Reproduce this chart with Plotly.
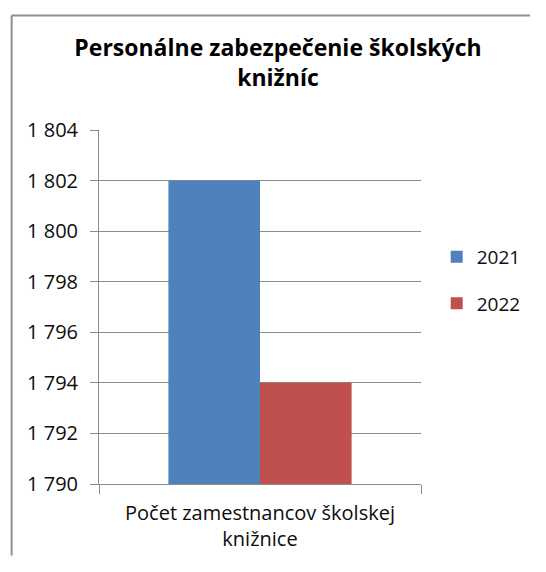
import plotly.graph_objects as go

categories = ["Počet zamestnancov školskej<br>knižnice"]
series_names = ["2021", "2022"]
values_2021 = [1802]
values_2022 = [1794]
y_ticks = [1790, 1792, 1794, 1796, 1798, 1800, 1802, 1804]
colors = ["#4F81BD", "#C0504D"]

FONT = "'Open Sans', Lato, sans-serif"
# page body has an 8px margin: keep the figure inside the window so nothing overflows
OFF = 8
W, H = 546 - 2 * OFF, 572 - 2 * OFF
L = 99 - OFF
R = W - (427 - OFF)
T = 129.5 - OFF
B = H - (491 - OFF)
pw, ph = W - L - R, H - T - B

fig = go.Figure()
for name, vals, col in zip(series_names, [values_2021, values_2022], colors):
    fig.add_trace(go.Bar(x=categories, y=vals, name=name, marker_color=col,
                         marker_line_width=0, legendgroup=name))

grid = "#8C8C8C"
fig.update_layout(
    width=W, height=H,
    margin=dict(l=L, r=R, t=T, b=B, pad=0),
    paper_bgcolor="white", plot_bgcolor="white",
    separators=", ",
    font=dict(family=FONT, size=19, color="#0d0d0d"),
    barmode="group", bargap=0.431, bargroupgap=0,
    title=dict(text="<b>Personálne zabezpečenie školských<br>knižníc</b>",
               xref="container", x=(278 - OFF) / W, xanchor="center",
               yref="container", y=1 - (56 - OFF) / H, yanchor="middle",
               font=dict(family=FONT, size=23, color="#000000")),
    legend=dict(x=(443 - OFF - L) / pw, xanchor="left",
                y=((491 - OFF) - (283 - OFF)) / ph, yanchor="middle",
                font=dict(size=19), tracegroupgap=19, bgcolor="rgba(0,0,0,0)",
                itemwidth=30),
    showlegend=True,
)
fig.update_yaxes(range=[1790, 1804], tickvals=y_ticks, tickformat=",d",
                 showgrid=True, gridcolor=grid, gridwidth=1,
                 showline=True, linecolor=grid, linewidth=1,
                 ticks="outside", ticklen=8, tickcolor=grid,
                 zeroline=False, tickfont=dict(size=20), ticklabelstandoff=8)
fig.update_xaxes(showline=True, linecolor=grid, linewidth=1,
                 ticks="outside", tickson="boundaries", ticklen=9, tickcolor=grid,
                 tickfont=dict(size=20), showgrid=False, ticklabelstandoff=11)

# chart border (top and left edges; right and bottom are cut off by the window)
bx = (10 - 99) / pw
by = (491 - 12.7) / ph
fig.add_shape(type="line", xref="paper", yref="paper",
              x0=bx, x1=(W - L) / pw, y0=by, y1=by,
              line=dict(color="#8F8F8F", width=2), layer="below")
fig.add_shape(type="line", xref="paper", yref="paper",
              x0=bx, x1=bx, y0=by, y1=-B / ph,
              line=dict(color="#8F8F8F", width=2), layer="below")

fig.write_html("out.html")
